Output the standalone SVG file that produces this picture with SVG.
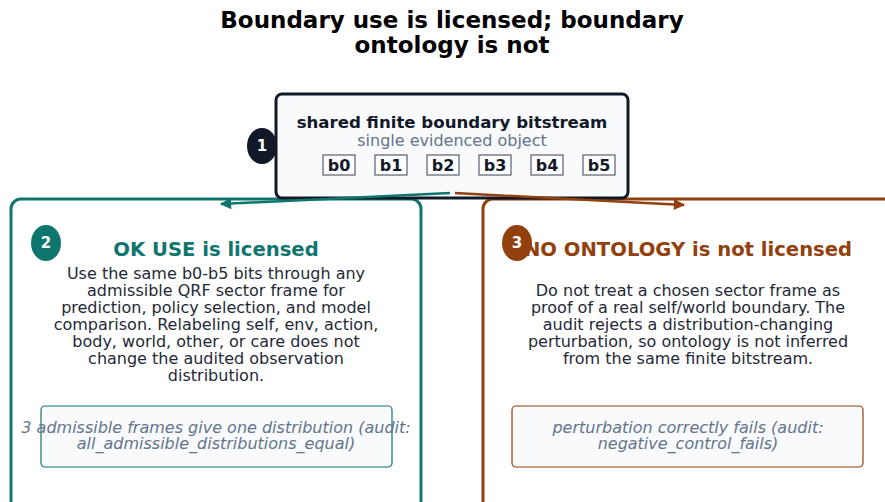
<svg xmlns="http://www.w3.org/2000/svg" width="885" height="502" viewBox="0 0 885 502">
<defs>
<marker id="ah-teal" viewBox="0 0 10 10" refX="9" refY="5" markerWidth="5" markerHeight="4.5" orient="auto" markerUnits="strokeWidth"><path d="M0,0 L10,5 L0,10 z" fill="#0f766e"/></marker>
<marker id="ah-brown" viewBox="0 0 10 10" refX="9" refY="5" markerWidth="5" markerHeight="4.5" orient="auto" markerUnits="strokeWidth"><path d="M0,0 L10,5 L0,10 z" fill="#92400e"/></marker>
<style>
text{font-family:"DejaVu Sans","Liberation Sans",sans-serif;text-anchor:middle}
.title{font-size:23px;font-weight:bold;fill:#000}
.body{font-size:16px;fill:#1f2937}
.note{font-size:16px;font-style:italic;fill:#64748b}
.bit{font-size:16px;font-weight:bold;fill:#111827}
.badge{font-size:15px;font-weight:bold;fill:#fff}
.bitbox{fill:#fff;stroke:#374151;stroke-width:1}
</style>
</defs>
<rect width="885" height="502" fill="#fff"/>
<text class="title" x="452" y="28">Boundary use is licensed; boundary</text>
<text class="title" x="452" y="53">ontology is not</text>

<g id="node-left">
<rect x="11" y="199" width="410" height="315" rx="10" fill="#fff" stroke="#0f766e" stroke-width="3"/>
<ellipse cx="46" cy="243" rx="15" ry="18" fill="#0f766e"/>
<text class="badge" x="46" y="248">2</text>
<text x="216" y="256" font-size="19.6" font-weight="bold" fill="#0f766e">OK USE is licensed</text>
<text class="body" x="216" y="279">Use the same b0-b5 bits through any</text>
<text class="body" x="216" y="296">admissible QRF sector frame for</text>
<text class="body" x="216" y="313">prediction, policy selection, and model</text>
<text class="body" x="216" y="330">comparison. Relabeling self, env, action,</text>
<text class="body" x="216" y="347">body, world, other, or care does not</text>
<text class="body" x="216" y="364">change the audited observation</text>
<text class="body" x="216" y="381">distribution.</text>
<rect x="41" y="406" width="351" height="61" rx="4" fill="#f8fafc" stroke="#0f766e" stroke-width="1.2"/>
<text class="note" x="216" y="433">3 admissible frames give one distribution (audit:</text>
<text class="note" x="216" y="449">all_admissible_distributions_equal)</text>
</g>

<g id="node-right">
<rect x="483" y="199" width="420" height="315" rx="10" fill="#fff" stroke="#92400e" stroke-width="3"/>
<text x="688" y="256" font-size="19.6" font-weight="bold" fill="#92400e">NO ONTOLOGY is not licensed</text>
<ellipse cx="517" cy="243" rx="15" ry="18" fill="#92400e"/>
<text class="badge" x="517" y="248">3</text>
<text class="body" x="688" y="296">Do not treat a chosen sector frame as</text>
<text class="body" x="688" y="313">proof of a real self/world boundary. The</text>
<text class="body" x="688" y="330">audit rejects a distribution-changing</text>
<text class="body" x="688" y="347">perturbation, so ontology is not inferred</text>
<text class="body" x="688" y="364">from the same finite bitstream.</text>
<rect x="512" y="406" width="351" height="61" rx="4" fill="#f8fafc" stroke="#92400e" stroke-width="1.2"/>
<text class="note" x="688" y="433">perturbation correctly fails (audit:</text>
<text class="note" x="688" y="449">negative_control_fails)</text>
</g>

<g id="node-top">
<rect x="276" y="94" width="352" height="104" rx="6" fill="#f8fafc" stroke="#111827" stroke-width="3"/>
<ellipse cx="262" cy="146" rx="15" ry="18" fill="#111827"/>
<text class="badge" x="262" y="151">1</text>
<text x="452" y="128" font-size="16.6" font-weight="bold" fill="#111827">shared finite boundary bitstream</text>
<text x="452" y="146" font-size="16" fill="#64748b">single evidenced object</text>
<rect class="bitbox" x="323" y="155" width="32" height="20"/>
<text class="bit" x="339" y="171">b0</text>
<rect class="bitbox" x="375" y="155" width="32" height="20"/>
<text class="bit" x="391" y="171">b1</text>
<rect class="bitbox" x="427" y="155" width="32" height="20"/>
<text class="bit" x="443" y="171">b2</text>
<rect class="bitbox" x="479" y="155" width="32" height="20"/>
<text class="bit" x="495" y="171">b3</text>
<rect class="bitbox" x="531" y="155" width="32" height="20"/>
<text class="bit" x="547" y="171">b4</text>
<rect class="bitbox" x="583" y="155" width="32" height="20"/>
<text class="bit" x="599" y="171">b5</text>
</g>

<g id="connectors">
<line x1="450" y1="193" x2="221" y2="204" stroke="#0f766e" stroke-width="2.5" marker-end="url(#ah-teal)"/>
<line x1="455" y1="193" x2="684" y2="205" stroke="#92400e" stroke-width="2.5" marker-end="url(#ah-brown)"/>
</g>
</svg>
